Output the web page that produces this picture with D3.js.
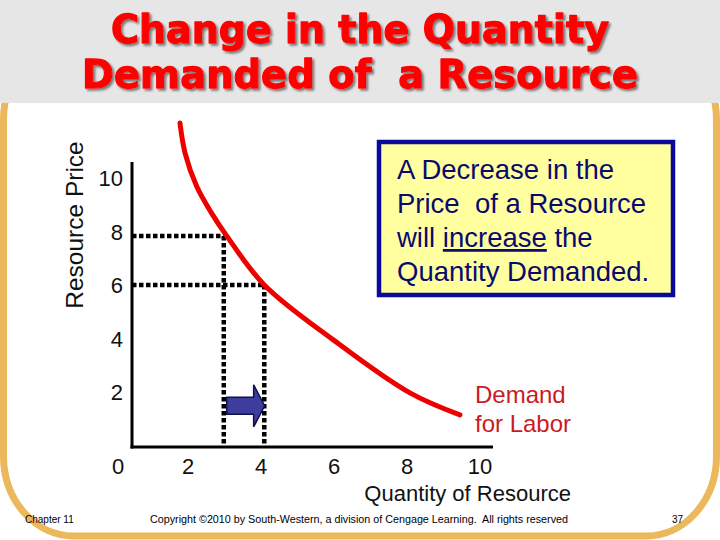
<!DOCTYPE html>
<html>
<head>
<meta charset="utf-8">
<script src="https://cdn.jsdelivr.net/npm/d3@7"></script>
<style>
  html, body { margin: 0; padding: 0; background: #fff; }
  svg { display: block; }
  text { white-space: pre; }
</style>
</head>
<body>
<svg id="chart" width="720" height="540"></svg>
<script>
// ---- data ----
const titleLines = ["Change in the Quantity", "Demanded of  a Resource"];
const yTicks = [2, 4, 6, 8, 10];
const xTicks = [0, 2, 4, 6, 8, 10];
const curveQ = [1.78, 1.92, 2.24, 2.65, 3.06, 4.09, 5.98, 8.08, 9.45];
const curveP = [12.05, 10.93, 9.68, 8.68, 7.84, 6.01, 3.96, 1.98, 1.16];
const pointQ = [2.98, 4.09];
const pointP = [7.84, 6.01];
const arrowFromQ = 3.06, arrowToQ = 4.1, arrowP = 1.5;
const boxLines = ["A Decrease in the", "Price  of a Resource", "will |increase| the", "Quantity Demanded."];
const curveLabel = ["Demand", "for Labor"];
const xTitle = "Quantity of Resource";
const yTitle = "Resource Price";
const footer = ["Chapter 11", "Copyright \u00a92010 by South-Western, a division of Cengage Learning.  All rights reserved", "37"];

const svg = d3.select("#chart");
const font = "Arial, 'Liberation Sans', sans-serif";

const defs = svg.append("defs");
const f = defs.append("filter").attr("id", "shadow").attr("x", "-5%").attr("y", "-20%")
  .attr("width", "110%").attr("height", "150%");
f.append("feDropShadow").attr("dx", 2).attr("dy", 2).attr("stdDeviation", 0.8)
  .attr("flood-color", "#6e6e6e").attr("flood-opacity", 0.9);

// border frame
svg.append("rect").attr("x", 3.5).attr("y", 40).attr("width", 713).attr("height", 496)
  .attr("rx", 70).attr("ry", 80)
  .attr("fill", "none").attr("stroke", "#ecb85c").attr("stroke-width", 7);

// title bar
svg.append("rect").attr("x", 0).attr("y", 0).attr("width", 720).attr("height", 103).attr("fill", "#e6e6e6");
const titleY = [43, 88];
const titleW = [498, 556];
titleLines.forEach((t, i) => {
  svg.append("text").attr("x", 360).attr("y", titleY[i])
    .attr("text-anchor", "middle")
    .attr("font-family", "'DejaVu Sans', Arial, sans-serif").attr("font-weight", "bold")
    .attr("font-size", 39).attr("fill", "#ff0000")
    .attr("stroke", "#ff0000").attr("stroke-width", 1.3).attr("stroke-linejoin", "round")
    .attr("textLength", titleW[i]).attr("lengthAdjust", "spacingAndGlyphs")
    .attr("filter", "url(#shadow)")
    .text(t);
});

// scales
const x = d3.scaleLinear().domain([0, 10]).range([115, 480]);
const y = d3.scaleLinear().domain([0, 10]).range([446, 178]);
const axisX0 = 132, axisY0 = 447;

// dotted guide lines
pointQ.forEach((q, i) => {
  const px = x(q), py = y(pointP[i]);
  svg.append("line").attr("x1", axisX0).attr("x2", px).attr("y1", py).attr("y2", py)
    .attr("stroke", "#000").attr("stroke-width", 4.5).attr("stroke-dasharray", "4.5,2.5");
  svg.append("line").attr("x1", px).attr("x2", px).attr("y1", py).attr("y2", axisY0)
    .attr("stroke", "#000").attr("stroke-width", 4.5).attr("stroke-dasharray", "4.5,2.5");
});

// axes lines
svg.append("line").attr("x1", axisX0).attr("x2", axisX0).attr("y1", 162).attr("y2", axisY0 + 1.5)
  .attr("stroke", "#000").attr("stroke-width", 3);
svg.append("line").attr("x1", axisX0 - 1.5).attr("x2", 493).attr("y1", axisY0).attr("y2", axisY0)
  .attr("stroke", "#000").attr("stroke-width", 3);

// tick labels
svg.selectAll(".yt").data(yTicks).join("text")
  .attr("x", 123).attr("y", d => y(d) + 8).attr("text-anchor", "end")
  .attr("font-family", font).attr("font-size", 22).attr("fill", "#111").text(d => d);
svg.selectAll(".xt").data(xTicks).join("text")
  .attr("x", d => x(d) + (d === 0 ? 3 : 0)).attr("y", 474).attr("text-anchor", "middle")
  .attr("font-family", font).attr("font-size", 22).attr("fill", "#111").text(d => d);

svg.append("text").attr("x", 571).attr("y", 501).attr("text-anchor", "end")
  .attr("font-family", font).attr("font-size", 22).attr("fill", "#111").text(xTitle);
svg.append("text").attr("transform", "translate(83,225) rotate(-90)").attr("text-anchor", "middle")
  .attr("font-family", font).attr("font-size", 24.5).attr("fill", "#111").text(yTitle);

// demand curve
const pts = curveQ.map((q, i) => [x(q), y(curveP[i])]);
svg.append("path").attr("d", d3.line().curve(d3.curveCatmullRom.alpha(0.5))(pts))
  .attr("fill", "none").attr("stroke", "#ee0000").attr("stroke-width", 5).attr("stroke-linecap", "round");

// arrow
const ax0 = x(arrowFromQ), ax1 = x(arrowToQ), ay = y(arrowP);
const hx = ax1 - 11;
const arrowPts = [[ax0, ay - 8.5], [hx, ay - 8.5], [hx, ay - 21], [ax1, ay], [hx, ay + 21], [hx, ay + 8.5], [ax0, ay + 8.5]];
svg.append("path").attr("d", d3.line()(arrowPts) + "Z")
  .attr("fill", "#3d3d9e").attr("stroke", "#10104a").attr("stroke-width", 1.5);

// curve label
curveLabel.forEach((t, i) => {
  svg.append("text").attr("x", 475).attr("y", 403 + i * 29)
    .attr("font-family", font).attr("font-size", 24).attr("fill", "#cc1a22").text(t);
});

// text box
svg.append("rect").attr("x", 379).attr("y", 142).attr("width", 294).attr("height", 153)
  .attr("fill", "#ffff9f").attr("stroke", "#0a0a9a").attr("stroke-width", 4.5);
const boxBase = [179, 213, 247, 281];
boxLines.forEach((t, i) => {
  const tx = svg.append("text").attr("x", 397).attr("y", boxBase[i])
    .attr("font-family", font).attr("font-size", 27.5).attr("fill", "#0a0a6e");
  t.split("|").forEach((part, j) => {
    if (!part) return;
    tx.append("tspan").attr("text-decoration", j === 1 ? "underline" : null).text(part);
  });
});

// footer
svg.append("text").attr("x", 25).attr("y", 523).attr("font-family", font).attr("font-size", 10)
  .attr("fill", "#000").text(footer[0]);
svg.append("text").attr("x", 150).attr("y", 523).attr("font-family", font).attr("font-size", 10)
  .attr("fill", "#000").attr("textLength", 418).attr("lengthAdjust", "spacingAndGlyphs").text(footer[1]);
svg.append("text").attr("x", 672).attr("y", 523).attr("font-family", font).attr("font-size", 10)
  .attr("fill", "#000").text(footer[2]);
</script>
</body>
</html>
